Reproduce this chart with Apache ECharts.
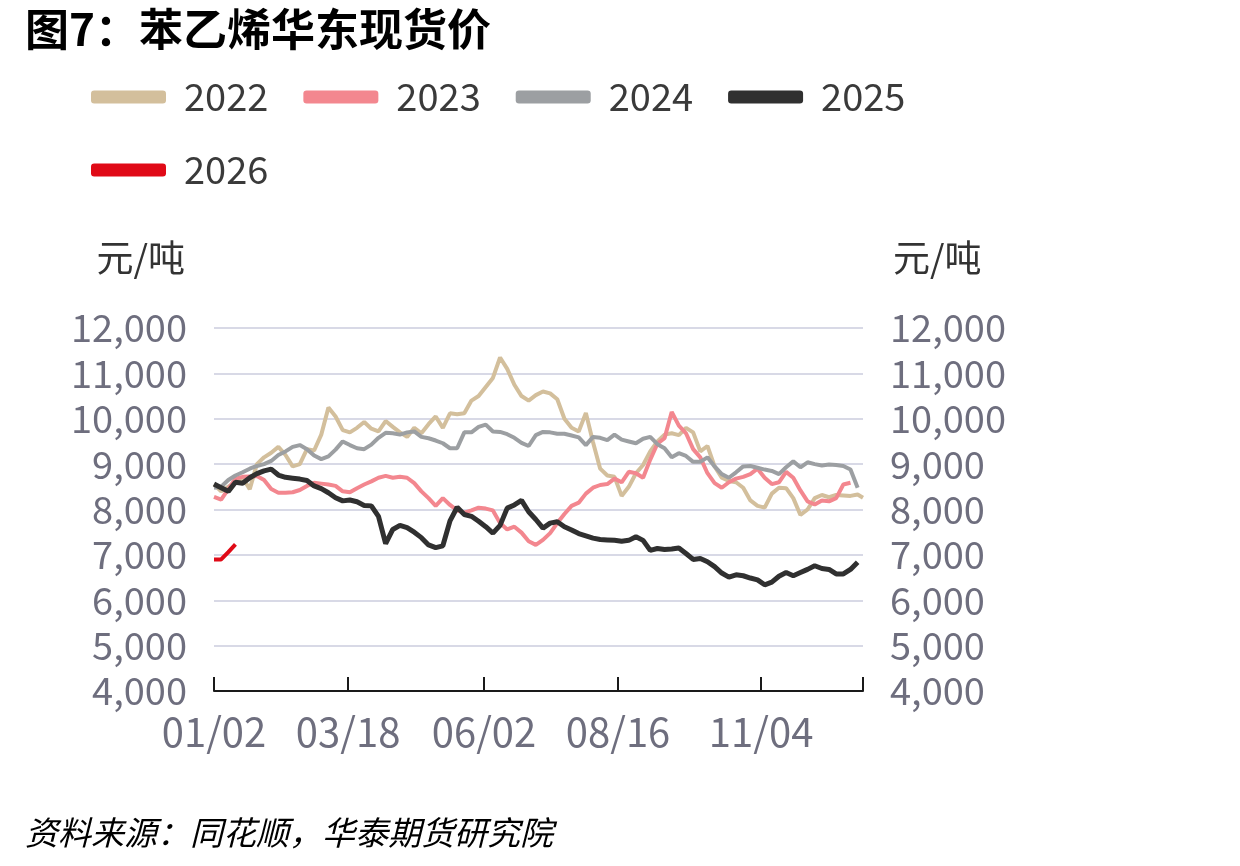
<!DOCTYPE html>
<html>
<head>
<meta charset="utf-8">
<script src="https://cdn.jsdelivr.net/npm/echarts@6/dist/echarts.min.js"></script>
<style>
  html, body { margin: 0; background: #fff; }
  #chart { width: 1240px; height: 866px; }
</style>
</head>
<body>
<div id="chart"></div>
<script>
// x axis: every calendar day 01/02 .. 12/31
const categories = [];
for (let d = new Date(2025, 0, 2); d <= new Date(2025, 11, 31); d.setDate(d.getDate() + 1)) {
  const mm = String(d.getMonth() + 1).padStart(2, '0');
  const dd = String(d.getDate()).padStart(2, '0');
  categories.push(mm + '/' + dd);
}
const tickLabels = ['01/02', '03/18', '06/02', '08/16', '11/04'];
// readings taken every 4th day, plus the last day
const sampleDates = categories.filter((c, i) => i % 4 === 0 || i === categories.length - 1);

const years = ['2022', '2023', '2024', '2025', '2026'];
const colors = ['#D3BF9C', '#F3878F', '#9C9FA2', '#303030', '#E00A17'];

const y2022 = [
  8550, 8400, 8500, 8600, 8700, 8450, 9000, 9150, 9250, 9380,
  9200, 8950, 9000, 9330, 9300, 9650, 10250, 10050, 9750, 9700,
  9800, 9930, 9780, 9720, 9950, 9820, 9700, 9600, 9800, 9680,
  9880, 10050, 9800, 10120, 10100, 10120, 10400, 10500, 10700, 10900,
  11350, 11100, 10750, 10500, 10400, 10520, 10600, 10560, 10430, 10000,
  9800, 9720, 10130, 9480, 8900, 8750, 8720, 8300, 8500, 8800,
  8980, 9280, 9500, 9650, 9680, 9640, 9800, 9700, 9280, 9400,
  8950, 8700, 8630, 8600, 8480, 8200, 8080, 8040, 8350, 8480,
  8470, 8250, 7880, 8000, 8250, 8320, 8270, 8320, 8310, 8300,
  8330, 8260
];
const y2023 = [
  8280, 8220, 8450, 8680, 8720, 8730, 8740, 8650, 8450, 8370,
  8370, 8380, 8430, 8520, 8590, 8570, 8550, 8520, 8400, 8380,
  8470, 8550, 8620, 8700, 8740, 8700, 8720, 8700, 8580, 8400,
  8250, 8080, 8250, 8100, 7980, 7930, 7980, 8040, 8020, 7980,
  7700, 7560, 7620, 7490, 7300, 7220, 7330, 7480, 7700, 7900,
  8080, 8150, 8350, 8480, 8540, 8560, 8680, 8600, 8830, 8800,
  8700, 9100, 9450, 9570, 10150, 9850, 9680, 9330, 9150, 8800,
  8580, 8480, 8600, 8680, 8720, 8780, 8900, 8700, 8560, 8600,
  8830, 8700, 8420, 8180, 8110, 8200, 8180, 8250, 8550, 8590
];
const y2024 = [
  8480, 8500, 8650, 8750, 8820, 8900, 8960, 9000, 9070, 9200,
  9280, 9380, 9420, 9330, 9190, 9110, 9170, 9320, 9500, 9420,
  9350, 9330, 9430, 9580, 9690, 9680, 9650, 9700, 9720, 9600,
  9570, 9520, 9460, 9350, 9350, 9700, 9700, 9820, 9870, 9720,
  9710, 9660, 9580, 9470, 9400, 9640, 9710, 9700, 9670, 9670,
  9630, 9590, 9420, 9600, 9580, 9530, 9650, 9540, 9500, 9460,
  9560, 9600, 9440, 9350, 9150, 9240, 9180, 9050, 9050, 9150,
  8950, 8780, 8700, 8820, 8950, 8960, 8920, 8880, 8850, 8780,
  8930, 9060, 8930, 9040, 9000, 8970, 8990, 8980, 8960, 8880,
  8480
];
const y2025 = [
  8560, 8480, 8400, 8600, 8580, 8700, 8790, 8850, 8890, 8760,
  8710, 8690, 8670, 8640, 8520, 8460, 8370, 8260, 8190, 8210,
  8170, 8090, 8080, 7850, 7250, 7560, 7650, 7600, 7500, 7380,
  7220, 7160, 7200, 7750, 8050, 7890, 7850, 7740, 7620, 7480,
  7650, 8030, 8100, 8200, 7950, 7780, 7590, 7700, 7730, 7620,
  7550, 7470, 7420, 7370, 7340, 7330, 7320, 7300, 7320, 7400,
  7320, 7100, 7140, 7120, 7130, 7150, 7030, 6900, 6920, 6850,
  6740, 6600, 6510, 6560, 6540, 6490, 6450, 6340, 6400, 6530,
  6610, 6540, 6610, 6680, 6760, 6700, 6680, 6580, 6580, 6680,
  6840
];
const y2026 = [6900, 6900, 7060, 7230];

const values = [y2022, y2023, y2024, y2025, y2026];

const FONT = '"Noto Sans CJK SC", "Noto Sans", sans-serif';
const labelGray = '#6E6E7E';

const chart = echarts.init(document.getElementById('chart'));

const yAxisBase = {
  type: 'value',
  min: 4000,
  max: 12000,
  interval: 1000,
  axisLine: { show: false },
  axisTick: { show: false },
  axisLabel: {
    fontSize: 38,
    fontFamily: FONT,
    color: labelGray,
    margin: 27,
    formatter: v => v.toLocaleString('en-US')
  },
  name: '元/吨',
  nameLocation: 'end',
  nameGap: 52
};

chart.setOption({
  animation: false,
  backgroundColor: '#fff',
  title: [
    {
      text: '图7：苯乙烯华东现货价',
      left: 20,
      top: 2,
      textStyle: { fontFamily: FONT, fontSize: 44, fontWeight: 'bold', color: '#000' }
    },
    {
      text: '资料来源：同花顺，华泰期货研究院',
      left: 20,
      top: 811,
      textStyle: { fontFamily: FONT, fontSize: 33, fontStyle: 'italic', fontWeight: 'normal', color: '#000' }
    }
  ],
  legend: {
    left: 86,
    top: 73,
    width: 880,
    icon: 'roundRect',
    itemWidth: 75,
    itemHeight: 13,
    itemGap: 35,
    data: years,
    textStyle: {
      fontFamily: FONT,
      fontSize: 38,
      color: '#3A3A3A',
      lineHeight: 38,
      padding: [0, 0, 0, 13]
    }
  },
  grid: { left: 214, right: 377, top: 328, bottom: 175 },
  xAxis: {
    type: 'category',
    data: categories,
    boundaryGap: false,
    axisLine: { lineStyle: { color: '#1A1A1A', width: 2 } },
    axisTick: {
      inside: true,
      length: 14,
      lineStyle: { color: '#1A1A1A', width: 2 },
      interval: (i, v) => tickLabels.includes(v) || i === categories.length - 1
    },
    axisLabel: {
      interval: (i, v) => tickLabels.includes(v),
      fontSize: 40,
      fontFamily: FONT,
      color: labelGray,
      margin: 21
    },
    splitLine: { show: false }
  },
  yAxis: [
    Object.assign({}, yAxisBase, {
      position: 'left',
      nameTextStyle: { fontFamily: FONT, fontSize: 37, color: '#333', align: 'right', padding: [0, 29, 0, 0] },
      splitLine: { lineStyle: { color: '#D8D9E6', width: 2 } }
    }),
    Object.assign({}, yAxisBase, {
      position: 'right',
      nameTextStyle: { fontFamily: FONT, fontSize: 37, color: '#333', align: 'left', padding: [0, 0, 0, 30] },
      splitLine: { show: false }
    })
  ],
  series: years.map((name, s) => ({
    name: name,
    type: 'line',
    yAxisIndex: 0,
    color: colors[s],
    showSymbol: false,
    lineStyle: { width: s === 3 ? 5 : 4, color: colors[s] },
    data: values[s].map((v, i) => [sampleDates[i], v])
  }))
});
</script>
</body>
</html>
